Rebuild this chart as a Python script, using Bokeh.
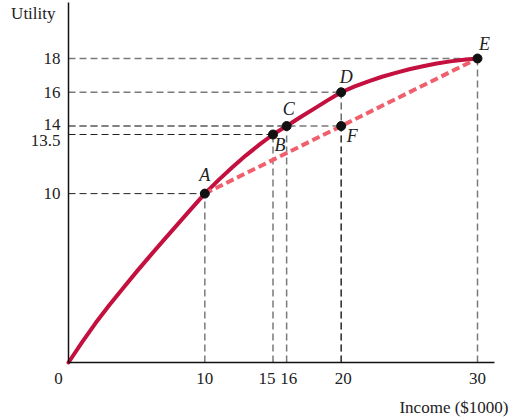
from bokeh.plotting import figure
from bokeh.models import Range1d, FixedTicker, ColumnDataSource
from bokeh.core.properties import value
from bokeh.embed import file_html
from bokeh.resources import INLINE

# ---- data ----
curve_income = [0, 1, 2, 3, 4, 5, 6, 7, 8, 9, 10, 11, 12, 13, 14, 15, 16,
                17, 18, 19, 20, 21, 22, 23, 24, 25, 26, 27, 28, 29, 30]
curve_utility = [0, 1.2, 2.35, 3.4, 4.4, 5.38, 6.33, 7.26, 8.18, 9.1, 10,
                 10.8, 11.55, 12.25, 12.9, 13.5, 14, 14.52, 15.02, 15.52, 16,
                 16.35, 16.65, 16.92, 17.15, 17.36, 17.54, 17.7, 17.83, 17.93, 18]

point_names = ["A", "B", "C", "D", "E", "F"]
point_income = [10, 15, 16, 20, 30, 20]
point_utility = [10, 13.5, 14, 16, 18, 14]

gamble_income = [10, 30]     # straight line A -> E
gamble_utility = [10, 18]

x_ticks = [0, 10, 15, 16, 20, 30]
x_tick_labels = ["0", "10", "15", "16", "20", "30"]
y_ticks = [10, 13.5, 14, 16, 18]
y_tick_labels = ["10", "13.5", "14", "16", "18"]

x_title = "Income ($1000)"
y_title = "Utility"

# ---- styles / layout ----
FONT = "Liberation Serif"
TXT = "#222222"
DARK, GREY = "#222222", "#7a7a7a"
hguide_colors = [DARK, DARK, GREY, GREY, GREY, GREY]
hguide_widths = [1.0, 1.0, 1.5, 1.5, 1.5, 1.5]
vguide_colors = [GREY, GREY, GREY, DARK, GREY, DARK]
vguide_widths = [1.5, 1.5, 1.5, 1.0, 1.5, 1.0]
label_dx = [0, 7, 2, 5, 7, 11]
label_dy = [-19, 10, -17, -15, -15, 10]
xlab_dx = [-10, 0, -6, 2, 2, 0]
ylab_dy = [0, 6, -2, 0, 0]

W, H = 518, 419
X0, Y0 = 68, 362               # canvas position of the origin
XS = 409 / 30.0                # px per income unit
YS = 304 / 18.0                # px per utility unit
X_AXIS_END = (494 - X0) / XS
Y_AXIS_END = (Y0 - 2) / YS

p = figure(width=W, height=H, output_backend="svg", toolbar_location=None,
           min_border=0,
           x_range=Range1d(-X0 / XS, (W - X0) / XS),
           y_range=Range1d(-(H - Y0) / YS, Y0 / YS))
p.outline_line_color = None
p.xgrid.visible = False
p.ygrid.visible = False
p.background_fill_color = "white"
p.border_fill_color = "white"

for ax in (p.xaxis[0], p.yaxis[0]):
    ax.fixed_location = 0
    ax.axis_line_color = "#111111"
    ax.axis_line_width = 1.5
    ax.major_tick_line_color = None
    ax.minor_tick_line_color = None
    ax.major_label_text_color = None
p.xaxis.ticker = FixedTicker(ticks=x_ticks)
p.xaxis.bounds = (0, X_AXIS_END)
p.yaxis.ticker = FixedTicker(ticks=y_ticks)
p.yaxis.bounds = (0, Y_AXIS_END)

# guide lines
zeros = [0] * len(point_income)
p.segment(x0=zeros, y0=point_utility, x1=point_income, y1=point_utility,
          line_color=hguide_colors, line_width=hguide_widths, line_dash="7 4")
p.segment(x0=point_income, y0=zeros, x1=point_income, y1=point_utility,
          line_color=vguide_colors, line_width=vguide_widths, line_dash="7 4")

# utility curve
p.line(curve_income, curve_utility, line_color="#c4103f", line_width=4,
       line_join="round", line_cap="round")
# chord A-E
p.line(gamble_income, gamble_utility, line_color="#f0606c", line_width=4,
       line_dash="8 4")

# points
p.scatter(point_income, point_utility, size=9, color="#111111")

# point letters
src = ColumnDataSource(dict(x=point_income, y=point_utility, t=point_names,
                            dx=label_dx, dy=label_dy))
p.text(x="x", y="y", text="t", x_offset="dx", y_offset="dy", source=src,
       text_font=value(FONT), text_font_style="italic", text_font_size="18px",
       text_align="center", text_baseline="middle", text_color=TXT)

# tick labels
xs = ColumnDataSource(dict(x=x_ticks, y=[0] * len(x_ticks), t=x_tick_labels,
                           dx=xlab_dx))
p.text(x="x", y="y", text="t", x_offset="dx", y_offset=16, source=xs,
       text_font=value(FONT), text_font_size="17px", text_align="center",
       text_baseline="middle", text_color=TXT)
ys = ColumnDataSource(dict(x=[0] * len(y_ticks), y=y_ticks, t=y_tick_labels,
                           dy=ylab_dy))
p.text(x="x", y="y", text="t", x_offset=-8, y_offset="dy", source=ys,
       text_font=value(FONT), text_font_size="17px", text_align="right",
       text_baseline="middle", text_color=TXT)

# axis titles
p.text(x=[0], y=[Y_AXIS_END], text=[y_title], x_offset=-13, y_offset=11,
       text_font=value(FONT), text_font_size="17px", text_align="right",
       text_baseline="middle", text_color=TXT)
p.text(x=[X_AXIS_END], y=[0], text=[x_title], x_offset=14, y_offset=45,
       text_font=value(FONT), text_font_size="17px", text_align="right",
       text_baseline="middle", text_color=TXT)

open("out.html", "w").write(file_html(p, INLINE))
